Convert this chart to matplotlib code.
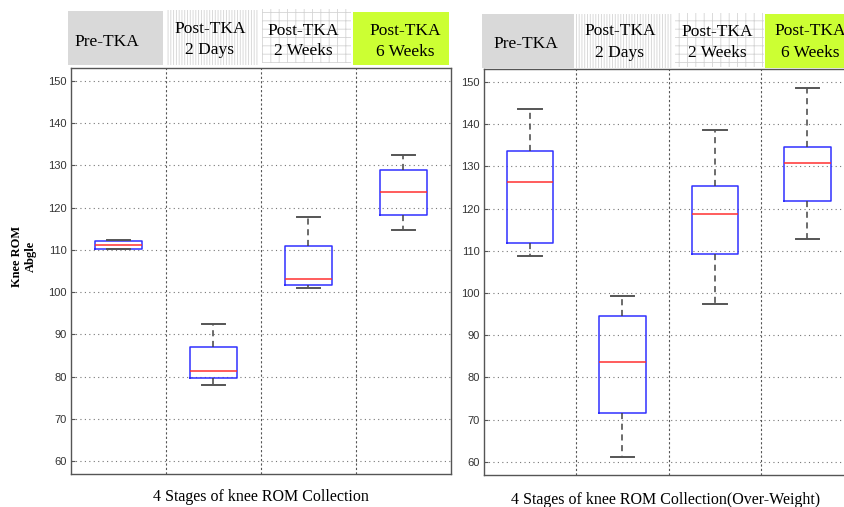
import matplotlib
matplotlib.use("Agg")
import matplotlib.pyplot as plt
from matplotlib.patches import Rectangle

# --- data ---
stages = ["Pre-TKA", "Post-TKA\n2 Days", "Post-TKA\n2 Weeks", "Post-TKA\n6 Weeks"]

# normal weight group
normal_whislo = [110.2, 78.1, 101.0, 114.8]
normal_q1 = [110.2, 79.8, 101.8, 118.3]
normal_med = [111.2, 81.3, 103.2, 123.6]
normal_q3 = [112.0, 87.0, 111.0, 129.0]
normal_whishi = [112.4, 92.4, 117.8, 132.5]

# over-weight group
over_whislo = [108.8, 61.1, 97.3, 112.9]
over_q1 = [111.8, 71.5, 109.3, 121.8]
over_med = [126.3, 83.7, 118.7, 130.9]
over_q3 = [133.7, 94.6, 125.4, 134.5]
over_whishi = [143.7, 99.2, 138.6, 148.5]

yticks = list(range(60, 151, 10))

W, H = 845, 507
plt.rcParams["hatch.linewidth"] = 0.6
fig = plt.figure(figsize=(W / 100, H / 100), dpi=100)


def px_box(x0, x1, y0, y1):
    # pixel box (top-left origin) -> figure fraction [left, bottom, width, height]
    return [x0 / W, 1 - y1 / H, (x1 - x0) / W, (y1 - y0) / H]


def make_stats(lo, q1, med, q3, hi):
    return [dict(whislo=a, q1=b, med=c, q3=d, whishi=e, fliers=[])
            for a, b, c, d, e in zip(lo, q1, med, q3, hi)]


def draw_panel(rect, stats, xlabel, xlabel_x, xlabel_y):
    ax = fig.add_axes(rect)
    ax.bxp(stats, positions=[1, 2, 3, 4], widths=0.5, capwidths=0.25,
           showfliers=False,
           boxprops=dict(color="#3030ff", linewidth=1.1),
           medianprops=dict(color="#ff3030", linewidth=1.1),
           whiskerprops=dict(color="#444444", linewidth=1.1, linestyle=(0, (4, 3))),
           capprops=dict(color="#555555", linewidth=1.4))
    ax.set_xlim(0.5, 4.5)
    ax.set_ylim(57, 153)
    ax.set_yticks(yticks)
    for y in yticks:
        ax.axhline(y, color="#777777", linestyle=(0, (1, 3)), linewidth=0.8, zorder=0)
    for x in [1.5, 2.5, 3.5]:
        ax.axvline(x, color="#555555", linestyle=(0, (2, 2)), linewidth=0.8, zorder=0)
    ax.set_xticks([])
    ax.tick_params(axis="y", direction="in", length=3, labelsize=8,
                   labelcolor="#333333", color="#555555", pad=3)
    for lab in ax.get_yticklabels():
        lab.set_fontfamily("Liberation Sans")
    for s in ax.spines.values():
        s.set_color("#555555")
        s.set_linewidth(1.0)
    fig.text(xlabel_x / W, 1 - xlabel_y / H, xlabel, ha="center", va="center",
             fontsize=11.5, family="Liberation Serif")
    return ax


def header(x0, x1, y0, y1, face, hatch, text, tx, ty_lines):
    r = Rectangle((x0 / W, 1 - y1 / H), (x1 - x0) / W, (y1 - y0) / H,
                  transform=fig.transFigure, facecolor=face,
                  edgecolor="#d4d4d4" if hatch else face, hatch=hatch,
                  linewidth=0)
    fig.add_artist(r)
    for line, ty in zip(text.split("\n"), ty_lines):
        fig.text(tx / W, 1 - ty / H, line, ha="center", va="center",
                 fontsize=12.5, family="Liberation Serif")


draw_panel(px_box(71, 451, 68, 474),
           make_stats(normal_whislo, normal_q1, normal_med, normal_q3, normal_whishi),
           "4 Stages of knee ROM Collection", 261, 497)
draw_panel(px_box(483.7, 853.7, 69.3, 474.5),
           make_stats(over_whislo, over_q1, over_med, over_q3, over_whishi),
           "4 Stages of knee ROM Collection(Over-Weight)", 666, 500)

fig.text(24 / W, 1 - 256 / H, "Knee ROM\nAbgle", rotation=90, ha="center", va="center",
         fontsize=9, fontweight="bold", family="Liberation Serif", linespacing=1.25)

# stage header boxes
faces = ["#d9d9d9", "white", "white", "#ccff33"]
hatches = [None, "||||||", "++", None]
left_boxes = [(68, 163, 11, 65), (166, 259, 10, 65), (262, 351, 9, 63), (353, 449, 12, 65)]
left_tx = [107, 210, 303, 405]
left_ty = [[42], [29, 50], [31, 51], [31, 52]]
right_boxes = [(482, 574, 14, 68), (576, 672, 14, 68), (675, 764, 13, 67), (765, 860, 14, 68)]
right_tx = [526, 620, 717, 810]
right_ty = [[44], [31, 53], [32, 53], [31, 53]]

for i, name in enumerate(stages):
    x0, x1, y0, y1 = left_boxes[i]
    header(x0, x1, y0, y1, faces[i], hatches[i], name, left_tx[i], left_ty[i])
    x0, x1, y0, y1 = right_boxes[i]
    header(x0, x1, y0, y1, faces[i], hatches[i], name, right_tx[i], right_ty[i])

fig.savefig("out.png", dpi=100)
